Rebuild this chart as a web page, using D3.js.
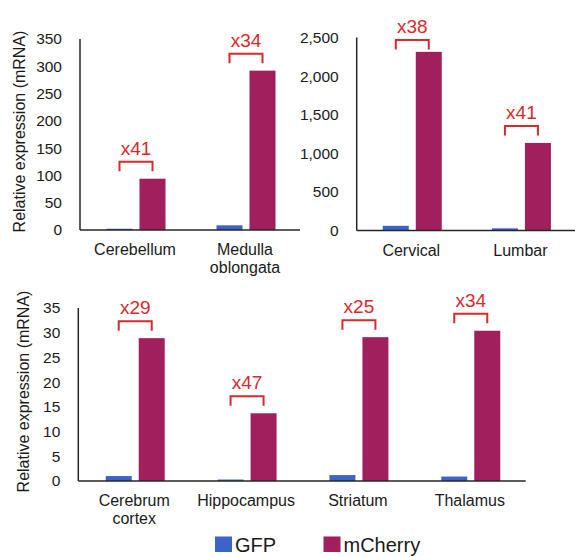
<!DOCTYPE html>
<html>
<head>
<meta charset="utf-8">
<script src="https://cdn.jsdelivr.net/npm/d3@7/dist/d3.min.js"></script>
<style>
  html, body { margin: 0; padding: 0; background: #fff; }
  svg { display: block; font-family: "Liberation Sans", Arial, Helvetica, sans-serif; }
</style>
</head>
<body>
<svg id="chart" width="575" height="557"></svg>
<script>
// Relative mRNA expression of GFP vs mCherry across CNS regions
const series = ["GFP", "mCherry"];
const seriesColors = ["#3b63c8", "#a21f5d"];

// Panel A: hindbrain
const hindCategories = [["Cerebellum"], ["Medulla", "oblongata"]];
const hindGFP = [2.3, 8.6];
const hindMCherry = [94, 292];
const hindFold = ["x41", "x34"];
const hindTicks = [0, 50, 100, 150, 200, 250, 300, 350];

// Panel B: spinal cord
const spinalCategories = [["Cervical"], ["Lumbar"]];
const spinalGFP = [61, 28];
const spinalMCherry = [2314, 1134];
const spinalFold = ["x38", "x41"];
const spinalTicks = [0, 500, 1000, 1500, 2000, 2500];

// Panel C: forebrain
const foreCategories = [["Cerebrum", "cortex"], ["Hippocampus"], ["Striatum"], ["Thalamus"]];
const foreGFP = [1.0, 0.3, 1.2, 0.9];
const foreMCherry = [28.9, 13.7, 29.1, 30.4];
const foreFold = ["x29", "x47", "x25", "x34"];
const foreTicks = [0, 5, 10, 15, 20, 25, 30, 35];

const yTitle = "Relative expression (mRNA)";

const svg = d3.select("#chart");
svg.append("rect").attr("width", 575).attr("height", 557).attr("fill", "#fff");

const textColor = "#1a1a1a";
const axisColor = "#262626";
const foldColor = "#d8292b";

function drawPanel(opt) {
  const g = svg.append("g");
  const names = opt.categories.map(c => c.join(" "));
  const x = d3.scaleBand().domain(names).range([opt.left, opt.right]);
  const y = d3.scaleLinear().domain([0, opt.ticks[opt.ticks.length - 1]]).range([opt.bottom, opt.top]);
  const sub = d3.scaleBand().domain(series).range([0, 59]).paddingInner(0.212);

  // y tick labels (no tick marks)
  const yAxis = d3.axisLeft(y).tickValues(opt.ticks).tickSize(0).tickPadding(18)
    .tickFormat(opt.format);
  const ya = g.append("g").attr("transform", `translate(${opt.left},0)`).call(yAxis);
  ya.select(".domain").remove();
  ya.selectAll("text").attr("font-size", 15.5).attr("fill", textColor)
    .attr("font-family", "Liberation Sans, Arial, sans-serif");

  // bars
  const rows = names.map((n, i) => ({ name: n, values: [opt.gfp[i], opt.mcherry[i]] }));
  const groups = g.selectAll("g.grp").data(rows).join("g").attr("class", "grp")
    .attr("transform", d => `translate(${x(d.name) + x.bandwidth() / 2 - 29.5 + 1},0)`);
  groups.selectAll("rect").data(d => d.values.map((v, j) => ({ key: series[j], v })))
    .join("rect")
    .attr("x", d => sub(d.key))
    .attr("width", sub.bandwidth())
    .attr("y", d => y(d.v))
    .attr("height", d => opt.bottom - y(d.v))
    .attr("fill", (d, j) => seriesColors[j]);

  // axis lines
  g.append("line").attr("x1", opt.left).attr("x2", opt.left)
    .attr("y1", opt.bottom).attr("y2", opt.top)
    .attr("stroke", axisColor).attr("stroke-width", 1.5);
  g.append("line").attr("x1", opt.left).attr("x2", opt.axisEnd)
    .attr("y1", opt.bottom).attr("y2", opt.bottom)
    .attr("stroke", axisColor).attr("stroke-width", 1.6);

  // category labels (multi-line)
  rows.forEach((r, i) => {
    const t = g.append("text")
      .attr("x", x(r.name) + x.bandwidth() / 2)
      .attr("y", opt.bottom + 25)
      .attr("text-anchor", "middle")
      .attr("font-size", 16).attr("fill", textColor);
    opt.categories[i].forEach((line, k) => {
      t.append("tspan").attr("x", x(r.name) + x.bandwidth() / 2)
        .attr("dy", k === 0 ? 0 : 17.5).text(line);
    });
  });

  // fold-change brackets over each pair
  rows.forEach((r, i) => {
    const gx = x(r.name) + x.bandwidth() / 2 - 29.5 + 1;
    const xa = gx + sub("GFP") + sub.bandwidth() / 2;
    const xb = gx + sub("mCherry") + sub.bandwidth() / 2;
    const barTop = y(opt.mcherry[i]);
    const top = Math.max(barTop - 17, opt.top + 2.5);
    const bot = top + 9.5;
    g.append("path")
      .attr("d", `M${xa},${bot}V${top}H${xb}V${bot}`)
      .attr("fill", "none").attr("stroke", foldColor).attr("stroke-width", 2);
    g.append("text")
      .attr("x", (xa + xb) / 2).attr("y", top - 7)
      .attr("text-anchor", "middle").attr("font-size", 19)
      .attr("fill", foldColor).text(opt.fold[i]);
  });

  // y axis title
  if (opt.titleX !== undefined) {
    g.append("text")
      .attr("transform", `translate(${opt.titleX},${(opt.top + opt.bottom) / 2 - 3}) rotate(-90)`)
      .attr("text-anchor", "middle").attr("font-size", 16).attr("fill", textColor)
      .text(yTitle);
  }
}

drawPanel({
  categories: hindCategories, gfp: hindGFP, mcherry: hindMCherry, fold: hindFold,
  ticks: hindTicks, format: d3.format("d"),
  left: 80, right: 300, axisEnd: 300, top: 39, bottom: 230, titleX: 25
});

drawPanel({
  categories: spinalCategories, gfp: spinalGFP, mcherry: spinalMCherry, fold: spinalFold,
  ticks: spinalTicks, format: d3.format(","),
  left: 356.7, right: 575, axisEnd: 575, top: 37.5, bottom: 230.5
});

drawPanel({
  categories: foreCategories, gfp: foreGFP, mcherry: foreMCherry, fold: foreFold,
  ticks: foreTicks, format: d3.format("d"),
  left: 78.3, right: 525.7, axisEnd: 525.7, top: 308, bottom: 481, titleX: 29
});

// legend
const legendX = [215, 323.5];
const legend = svg.append("g");
series.forEach((s, i) => {
  legend.append("rect").attr("x", legendX[i]).attr("y", 536.5)
    .attr("width", 17).attr("height", 15.5).attr("fill", seriesColors[i]);
  legend.append("text").attr("x", legendX[i] + 20).attr("y", 551.5)
    .attr("font-size", 20).attr("fill", textColor).text(s);
});
</script>
</body>
</html>
